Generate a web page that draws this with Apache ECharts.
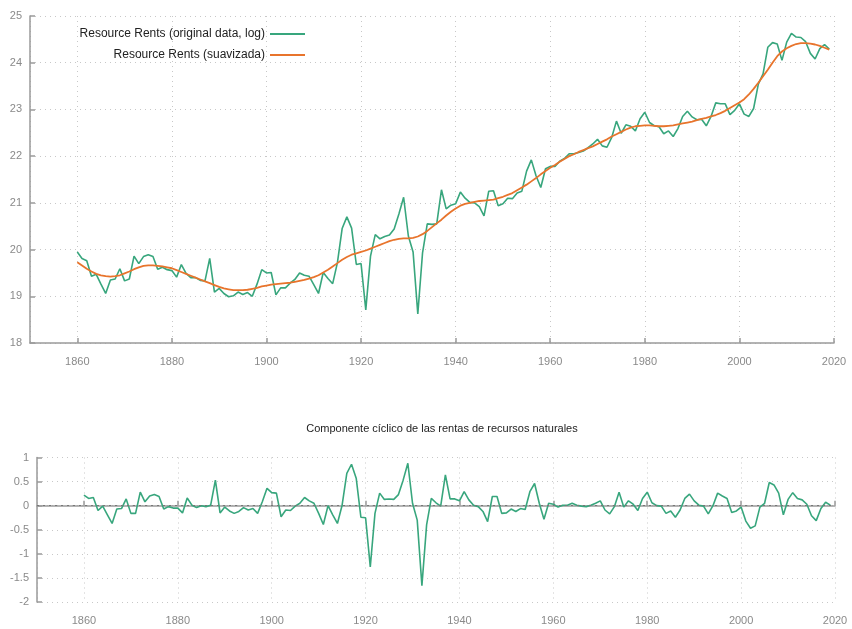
<!DOCTYPE html>
<html>
<head>
<meta charset="utf-8">
<title>Resource Rents</title>
<script src="https://cdn.jsdelivr.net/npm/echarts@6.0.0/dist/echarts.min.js"></script>
<style>
  html, body { margin: 0; padding: 0; background: #fff; }
  #charts { width: 852px; height: 629px; }
</style>
</head>
<body>
<div id="charts"></div>
<script>
// años 1860 - 2019
var firstYear = 1860;

// serie original (log)
var original = [
  19.95, 19.81, 19.76, 19.43, 19.47, 19.26, 19.06, 19.35, 19.37, 19.59,
  19.33, 19.37, 19.86, 19.70, 19.85, 19.89, 19.85, 19.58, 19.62, 19.57,
  19.55, 19.41, 19.68, 19.49, 19.40, 19.40, 19.34, 19.33, 19.81, 19.09,
  19.17, 19.06, 18.99, 19.01, 19.09, 19.04, 19.08, 19.00, 19.26, 19.57,
  19.50, 19.51, 19.03, 19.18, 19.18, 19.28, 19.36, 19.50, 19.45, 19.43,
  19.25, 19.06, 19.51, 19.38, 19.27, 19.72, 20.45, 20.70, 20.46, 19.68,
  19.70, 18.71, 19.86, 20.32, 20.23, 20.28, 20.31, 20.44, 20.76, 21.12,
  20.29, 19.95, 18.62, 19.93, 20.55, 20.54, 20.55, 21.28, 20.87, 20.95,
  20.98, 21.23, 21.10, 21.01, 21.00, 20.92, 20.72, 21.25, 21.26, 20.94,
  20.98, 21.10, 21.09, 21.21, 21.25, 21.68, 21.92, 21.58, 21.33, 21.73,
  21.78, 21.78, 21.89, 21.95, 22.05, 22.05, 22.08, 22.11, 22.18, 22.26,
  22.36, 22.22, 22.19, 22.40, 22.75, 22.49, 22.67, 22.64, 22.54, 22.80,
  22.94, 22.72, 22.65, 22.63, 22.48, 22.54, 22.42, 22.59, 22.85, 22.96,
  22.84, 22.78, 22.79, 22.65, 22.85, 23.14, 23.12, 23.12, 22.89, 22.98,
  23.12, 22.90, 22.85, 23.02, 23.54, 23.76, 24.33, 24.43, 24.40, 24.05,
  24.44, 24.63, 24.55, 24.54, 24.45, 24.20, 24.08, 24.30, 24.39, 24.29
];

// tendencia suavizada
var trend = [
  19.73, 19.66, 19.59, 19.53, 19.48, 19.45, 19.43, 19.42, 19.43, 19.45,
  19.49, 19.53, 19.58, 19.62, 19.65, 19.66, 19.66, 19.65, 19.64, 19.62,
  19.60, 19.56, 19.52, 19.48, 19.44, 19.40, 19.36, 19.32, 19.28, 19.24,
  19.20, 19.17, 19.15, 19.13, 19.13, 19.13, 19.14, 19.16, 19.18, 19.21,
  19.23, 19.25, 19.26, 19.27, 19.28, 19.29, 19.31, 19.33, 19.35, 19.38,
  19.41, 19.45, 19.51, 19.57, 19.64, 19.71, 19.78, 19.84, 19.89, 19.92,
  19.95, 19.98, 20.02, 20.06, 20.10, 20.14, 20.18, 20.21, 20.23, 20.24,
  20.24, 20.25, 20.28, 20.33, 20.40, 20.48, 20.56, 20.64, 20.73, 20.81,
  20.88, 20.94, 20.98, 21.00, 21.02, 21.04, 21.05, 21.06, 21.07, 21.10,
  21.13, 21.17, 21.21, 21.27, 21.33, 21.39, 21.46, 21.53, 21.61, 21.68,
  21.75, 21.81, 21.88, 21.94, 22.00, 22.04, 22.09, 22.13, 22.17, 22.21,
  22.26, 22.31, 22.36, 22.42, 22.47, 22.52, 22.57, 22.61, 22.64, 22.65,
  22.66, 22.66, 22.65, 22.64, 22.64, 22.65, 22.66, 22.68, 22.70, 22.72,
  22.74, 22.77, 22.80, 22.82, 22.85, 22.88, 22.92, 22.97, 23.03, 23.09,
  23.15, 23.22, 23.32, 23.44, 23.57, 23.71, 23.85, 24.00, 24.14, 24.24,
  24.31, 24.36, 24.40, 24.42, 24.42, 24.41, 24.39, 24.36, 24.32, 24.28
];

// componente ciclico
var cycle = [
  0.22, 0.15, 0.17, -0.10, -0.01, -0.19, -0.37, -0.07, -0.06, 0.14,
  -0.16, -0.16, 0.28, 0.08, 0.20, 0.23, 0.19, -0.07, -0.02, -0.05,
  -0.05, -0.15, 0.16, 0.01, -0.04, 0.00, -0.02, 0.01, 0.53, -0.15,
  -0.03, -0.11, -0.16, -0.12, -0.04, -0.09, -0.06, -0.16, 0.08, 0.36,
  0.27, 0.26, -0.23, -0.09, -0.10, -0.01, 0.05, 0.17, 0.10, 0.05,
  -0.16, -0.39, 0.00, -0.19, -0.37, 0.01, 0.67, 0.86, 0.57, -0.24,
  -0.25, -1.27, -0.16, 0.26, 0.13, 0.14, 0.13, 0.23, 0.53, 0.88,
  0.05, -0.30, -1.66, -0.40, 0.15, 0.06, -0.01, 0.64, 0.14, 0.14,
  0.10, 0.29, 0.12, 0.01, -0.02, -0.12, -0.33, 0.19, 0.19, -0.16,
  -0.15, -0.07, -0.12, -0.06, -0.08, 0.29, 0.46, 0.05, -0.28, 0.05,
  0.03, -0.03, 0.01, 0.01, 0.05, 0.01, -0.01, -0.02, 0.01, 0.05,
  0.10, -0.09, -0.17, -0.02, 0.28, -0.03, 0.10, 0.03, -0.10, 0.15,
  0.28, 0.06, 0.00, -0.01, -0.16, -0.11, -0.24, -0.09, 0.15, 0.24,
  0.10, 0.01, -0.01, -0.17, 0.00, 0.26, 0.20, 0.15, -0.14, -0.11,
  -0.03, -0.32, -0.47, -0.42, -0.03, 0.05, 0.48, 0.43, 0.26, -0.19,
  0.13, 0.27, 0.15, 0.12, 0.03, -0.21, -0.31, -0.06, 0.07, 0.01
];

var topTicks = [18, 19, 20, 21, 22, 23, 24, 25];
var bottomTicks = [-2, -1.5, -1, -0.5, 0, 0.5, 1];

var green = '#38a67d';
var orange = '#e8742c';
var axisGrey = '#9a9a9a';
var gridGrey = '#c8c8c8';
var labelGrey = '#8a8a8a';

function pairs(arr) {
  var out = [];
  for (var i = 0; i < arr.length; i++) {
    out.push([firstYear + i, arr[i]]);
  }
  return out;
}

function xAxisConf(idx, margin) {
  return {
    type: 'value',
    gridIndex: idx,
    min: 1850,
    max: 2020,
    splitNumber: 8,
    axisLine: { lineStyle: { color: axisGrey, width: 1.5 } },
    axisTick: { inside: true, length: 5, lineStyle: { color: axisGrey, width: 1.5 } },
    axisLabel: {
      showMinLabel: false,
      color: labelGrey,
      fontSize: 11,
      fontFamily: 'Liberation Sans',
      margin: margin,
      formatter: function (v) { return v % 20 === 0 ? String(v) : ''; }
    },
    splitLine: { show: true, lineStyle: { color: gridGrey, type: [1, 4] } }
  };
}

function yAxisConf(idx, ticks, interval) {
  return {
    type: 'value',
    gridIndex: idx,
    min: ticks[0],
    max: ticks[ticks.length - 1],
    interval: interval,
    axisLine: { show: true, lineStyle: { color: axisGrey, width: 1.5 } },
    axisTick: { show: true, inside: true, length: 5, lineStyle: { color: axisGrey, width: 1.5 } },
    axisLabel: {
      color: labelGrey,
      fontSize: 11,
      fontFamily: 'Liberation Sans',
      margin: 8
    },
    splitLine: { show: true, lineStyle: { color: gridGrey, type: [1, 4] } }
  };
}

function legendConf(name, top) {
  return {
    data: [name],
    right: 547,
    top: top,
    padding: 0,
    align: 'right',
    icon: 'rect',
    itemWidth: 35,
    itemHeight: 2,
    itemGap: 5,
    textStyle: { fontSize: 12, color: '#222', fontFamily: 'Liberation Sans' }
  };
}

var myChart = echarts.init(document.getElementById('charts'), null, { renderer: 'canvas' });

myChart.setOption({
  animation: false,
  backgroundColor: '#fff',
  textStyle: { fontFamily: 'Liberation Sans' },
  title: {
    text: 'Componente cíclico de las rentas de recursos naturales',
    left: 437,
    top: 418,
    textAlign: 'center',
    textStyle: { fontSize: 11, fontWeight: 'normal', color: '#222', fontFamily: 'Liberation Sans' }
  },
  legend: [
    legendConf('Resource Rents (original data, log)', 28),
    legendConf('Resource Rents (suavizada)', 49)
  ],
  grid: [
    { left: 30, right: 18, top: 16, bottom: 286 },
    { left: 37, right: 17, top: 457.5, bottom: 27 }
  ],
  xAxis: [xAxisConf(0, 13), xAxisConf(1, 13)],
  yAxis: [yAxisConf(0, topTicks, 1), yAxisConf(1, bottomTicks, 0.5)],
  series: [
    {
      name: 'Resource Rents (original data, log)',
      type: 'line',
      xAxisIndex: 0,
      yAxisIndex: 0,
      data: pairs(original),
      showSymbol: false,
      symbol: 'none',
      color: green,
      lineStyle: { color: green, width: 1.6 }
    },
    {
      name: 'Resource Rents (suavizada)',
      type: 'line',
      xAxisIndex: 0,
      yAxisIndex: 0,
      data: pairs(trend),
      showSymbol: false,
      symbol: 'none',
      color: orange,
      lineStyle: { color: orange, width: 1.8 }
    },
    {
      name: 'ciclo',
      type: 'line',
      xAxisIndex: 1,
      yAxisIndex: 1,
      data: pairs(cycle),
      showSymbol: false,
      symbol: 'none',
      color: green,
      lineStyle: { color: green, width: 1.6 },
      markLine: {
        silent: true,
        symbol: 'none',
        label: { show: false },
        lineStyle: { color: '#777', type: [2, 4], width: 1 },
        data: [{ yAxis: 0 }]
      }
    }
  ]
});
</script>
</body>
</html>
